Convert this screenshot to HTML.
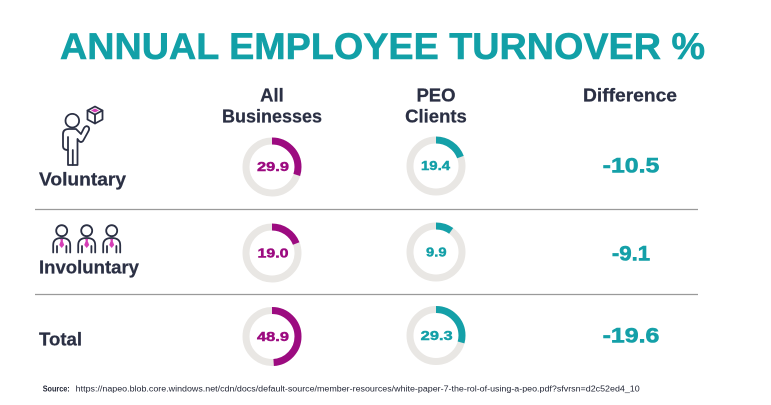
<!DOCTYPE html>
<html>
<head>
<meta charset="utf-8">
<style>
  html,body{margin:0;padding:0;background:#fff;}
  svg{display:block;}
  text{font-family:"Liberation Sans",Arial,sans-serif;font-weight:bold;}
</style>
</head>
<body>
<svg width="771" height="405" viewBox="0 0 771 405" xmlns="http://www.w3.org/2000/svg">
  <rect width="771" height="405" fill="#fff"/>
  <!-- Title -->
  <text x="60" y="59" font-size="37" fill="#12a0a7" stroke="#12a0a7" stroke-width="0.6" textLength="645" lengthAdjust="spacingAndGlyphs">ANNUAL EMPLOYEE TURNOVER %</text>

  <!-- Headers -->
  <g fill="#2b3044" stroke="#2b3044" stroke-width="0.25" font-size="18.5" text-anchor="middle">
    <text x="272" y="101.7">All</text>
    <text x="272" y="122.7" textLength="100" lengthAdjust="spacingAndGlyphs">Businesses</text>
    <text x="436" y="101.7">PEO</text>
    <text x="436" y="122.7">Clients</text>
    <text x="630" y="101.7" textLength="94" lengthAdjust="spacingAndGlyphs">Difference</text>
  </g>

  <!-- Row labels -->
  <g fill="#2b3044" stroke="#2b3044" stroke-width="0.25" font-size="18.5">
    <text x="39" y="185.7" textLength="87" lengthAdjust="spacingAndGlyphs">Voluntary</text>
    <text x="39" y="273.3" textLength="100" lengthAdjust="spacingAndGlyphs">Involuntary</text>
    <text x="39" y="345.7" textLength="43" lengthAdjust="spacingAndGlyphs">Total</text>
  </g>

  <!-- Separator lines -->
  <line x1="35" y1="209.5" x2="698" y2="209.5" stroke="#9a9a9a" stroke-width="1.2"/>
  <line x1="35" y1="294.5" x2="698" y2="294.5" stroke="#9a9a9a" stroke-width="1.2"/>

  <!-- Voluntary icon -->
  <g fill="none" stroke="#2b3044" stroke-width="1.8" stroke-linejoin="round" stroke-linecap="round">
    <circle cx="72.3" cy="120.7" r="6.8"/>
    <path d="M68 165 V150 Q63 150 63 146 V134 Q63 129 69 129 H76 L81 134 L84 128 Q86 125 88.5 127 Q90 129 88 132 L83 141 Q81 143 79 141 L77.5 139 V165 Z"/>
    <line x1="72.8" y1="150" x2="72.8" y2="165"/>
    <line x1="68" y1="137" x2="68" y2="150"/>
    <path d="M95 106.5 L102.5 110.5 V119.5 L95 123.5 L87.5 119.5 V110.5 Z"/>
    <path d="M87.5 110.5 L95 114.5 L102.5 110.5 M95 114.5 V123.5"/>
  </g>
  <path d="M95 108.5 L99 110.5 L95 112.5 L91 110.5 Z" fill="#d63fb6"/>

  <!-- Involuntary icons -->
  <g fill="none" stroke="#2b3044" stroke-width="1.8" stroke-linecap="round" stroke-linejoin="round">
    <circle cx="61.7" cy="230.7" r="5.5"/>
    <path d="M53.2 252.5 V245 Q53.2 238 61.7 238 Q70.2 238 70.2 245 V252.5"/>
    <path d="M57 252.5 V246 M66.4 252.5 V246"/>
    <circle cx="86.7" cy="230.7" r="5.5"/>
    <path d="M78.2 252.5 V245 Q78.2 238 86.7 238 Q95.2 238 95.2 245 V252.5"/>
    <path d="M82 252.5 V246 M91.4 252.5 V246"/>
    <circle cx="111.7" cy="230.7" r="5.5"/>
    <path d="M103.2 252.5 V245 Q103.2 238 111.7 238 Q120.2 238 120.2 245 V252.5"/>
    <path d="M107 252.5 V246 M116.4 252.5 V246"/>
  </g>
  <g fill="#d63fb6">
    <path d="M60.2 239 H63.2 L62.7 241 L64.2 245 L61.7 248 L59.2 245 L60.7 241 Z"/>
    <path d="M85.2 239 H88.2 L87.7 241 L89.2 245 L86.7 248 L84.2 245 L85.7 241 Z"/>
    <path d="M110.2 239 H113.2 L112.7 241 L114.2 245 L111.7 248 L109.2 245 L110.7 241 Z"/>
  </g>

  <!-- Donuts: r=26, circumference 163.36 -->
  <g fill="none" stroke-width="7">
    <circle cx="272" cy="167" r="26" stroke="#e9e7e4"/>
    <circle cx="272" cy="167" r="26" stroke="#9c0b80" stroke-dasharray="48.84 200" transform="rotate(-90 272 167)"/>
    <circle cx="436" cy="166" r="26" stroke="#e9e7e4"/>
    <circle cx="436" cy="166" r="26" stroke="#14a0a8" stroke-dasharray="31.69 200" transform="rotate(-90 436 166)"/>
    <circle cx="272" cy="253" r="26" stroke="#e9e7e4"/>
    <circle cx="272" cy="253" r="26" stroke="#9c0b80" stroke-dasharray="31.04 200" transform="rotate(-90 272 253)"/>
    <circle cx="436" cy="252" r="26" stroke="#e9e7e4"/>
    <circle cx="436" cy="252" r="26" stroke="#14a0a8" stroke-dasharray="16.17 200" transform="rotate(-90 436 252)"/>
    <circle cx="272" cy="336.5" r="26" stroke="#e9e7e4"/>
    <circle cx="272" cy="336.5" r="26" stroke="#9c0b80" stroke-dasharray="79.88 200" transform="rotate(-90 272 336.5)"/>
    <circle cx="436" cy="335.5" r="26" stroke="#e9e7e4"/>
    <circle cx="436" cy="335.5" r="26" stroke="#14a0a8" stroke-dasharray="47.86 200" transform="rotate(-90 436 335.5)"/>
  </g>

  <!-- Donut labels -->
  <g font-size="13" text-anchor="middle" stroke-width="0.45">
    <text x="273" y="170.8" fill="#9c0b80" stroke="#9c0b80" textLength="32" lengthAdjust="spacingAndGlyphs">29.9</text>
    <text x="435.5" y="170" fill="#14a0a8" stroke="#14a0a8" textLength="29" lengthAdjust="spacingAndGlyphs">19.4</text>
    <text x="273" y="257.3" fill="#9c0b80" stroke="#9c0b80" textLength="31" lengthAdjust="spacingAndGlyphs">19.0</text>
    <text x="436.3" y="256.6" fill="#14a0a8" stroke="#14a0a8" textLength="20.5" lengthAdjust="spacingAndGlyphs">9.9</text>
    <text x="273" y="340.8" fill="#9c0b80" stroke="#9c0b80" textLength="32" lengthAdjust="spacingAndGlyphs">48.9</text>
    <text x="436.7" y="340" fill="#14a0a8" stroke="#14a0a8" textLength="32" lengthAdjust="spacingAndGlyphs">29.3</text>
  </g>

  <!-- Difference values -->
  <g font-size="21" fill="#14a0a8" stroke="#14a0a8" stroke-width="0.6" text-anchor="middle">
    <text x="631" y="172.3" textLength="56.6" lengthAdjust="spacingAndGlyphs">-10.5</text>
    <text x="631" y="260.7" textLength="38.3" lengthAdjust="spacingAndGlyphs">-9.1</text>
    <text x="631" y="342.7" textLength="56.7" lengthAdjust="spacingAndGlyphs">-19.6</text>
  </g>

  <!-- Source -->
  <text x="42.7" y="391.7" font-size="8" fill="#1f2333" textLength="27" lengthAdjust="spacingAndGlyphs">Source:</text>
  <text x="75.7" y="391.7" font-size="8" fill="#1f2333" style="font-weight:normal" textLength="564" lengthAdjust="spacingAndGlyphs">https://napeo.blob.core.windows.net/cdn/docs/default-source/member-resources/white-paper-7-the-rol-of-using-a-peo.pdf?sfvrsn=d2c52ed4_10</text>
</svg>
</body>
</html>
